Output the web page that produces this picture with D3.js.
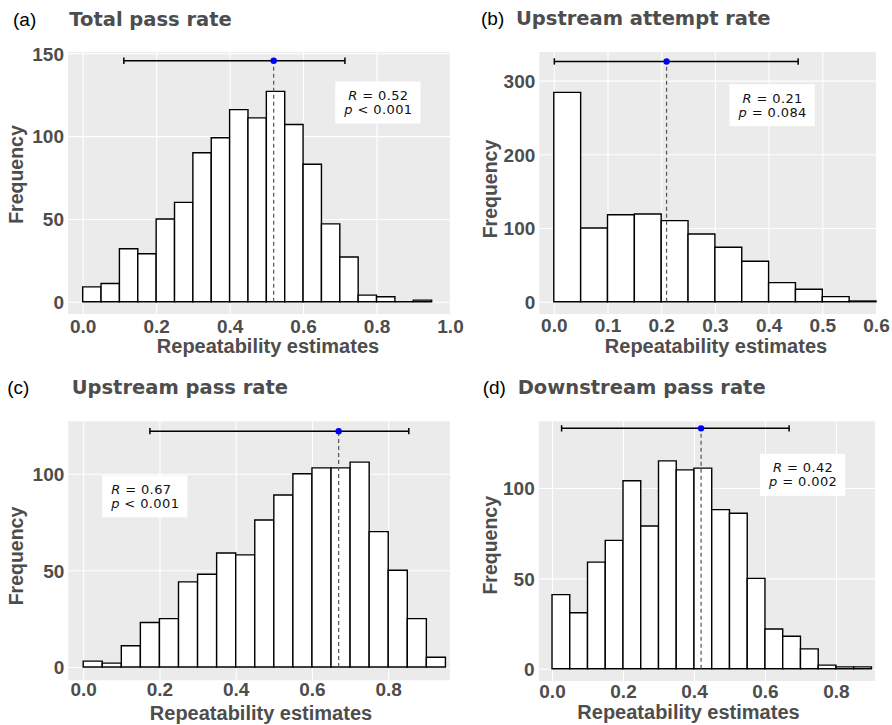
<!DOCTYPE html>
<html>
<head>
<meta charset="utf-8">
<script src="https://cdn.jsdelivr.net/npm/d3@7"></script>
<style>
  body { margin: 0; background: #fff; }
  svg { display: block; }
</style>
</head>
<body>
<div id="vis"></div>
<script>
// frame constants
const FRAME_WIDTH = 892;
const FRAME_HEIGHT = 725;

// histogram counts, bins of 0.05 starting at 0
const BIN_WIDTH = 0.05;
const TOTAL_PASS = [9, 11, 32, 29, 50, 60, 90, 99, 116, 111, 127, 107, 83, 47, 27, 4, 3, 0, 1];
const UP_ATTEMPT = [284, 100, 118, 119, 110, 92, 74, 55, 26, 17, 7, 1];
const UP_PASS = [3, 2, 11, 23, 25, 44, 48, 59, 58, 76, 89, 100, 103, 103, 106, 70, 50, 25, 5];
const DOWN_PASS = [41, 31, 59, 71, 104, 79, 115, 110, 111, 88, 86, 50, 22, 18, 11, 2, 1, 1];

const PANEL_COUNTS = [TOTAL_PASS, UP_ATTEMPT, UP_PASS, DOWN_PASS];
const PANEL_LETTERS = ["(a)", "(b)", "(c)", "(d)"];
const PANEL_TITLES = ["Total pass rate", "Upstream attempt rate", "Upstream pass rate", "Downstream pass rate"];

// repeatability estimate, confidence interval and p value
const R_VALUES = [0.52, 0.21, 0.67, 0.42];
const CI_LOW = [0.112, 0.001, 0.175, 0.027];
const CI_HIGH = [0.714, 0.455, 0.854, 0.668];
const CI_Y = [145.5, 326, 122, 133];
const P_LABELS = ["< 0.001", "= 0.084", "< 0.001", "= 0.002"];

// tick values
const X_TICKS = [
  [0, 0.2, 0.4, 0.6, 0.8, 1.0],
  [0, 0.1, 0.2, 0.3, 0.4, 0.5, 0.6],
  [0, 0.2, 0.4, 0.6, 0.8],
  [0, 0.2, 0.4, 0.6, 0.8]
];
const Y_TICKS = [
  [0, 50, 100, 150],
  [0, 100, 200, 300],
  [0, 50, 100],
  [0, 50, 100]
];

const X_TITLE = "Repeatability estimates";
const Y_TITLE = "Frequency";

// panel layout (pixels) and domains
const LAYOUT = [
  {left: 68, right: 450, top: 52, bottom: 314, xDom: [-0.04, 1.0], yDom: [-7.4, 150.8],
   letterX: 13, titleX: 69.3, titleY: 26, xLabelY: 332.5, xTitleX: 268, xTitleY: 353.3,
   yTitleX: 23.3, yTitleY: 174.5, note: [0.805, 120], noteAnchor: "middle"},
  {left: 539.3, right: 876, top: 52, bottom: 314, xDom: [-0.027, 0.6], yDom: [-16.6, 338.8],
   letterX: 481, titleX: 516, titleY: 25, xLabelY: 332, xTitleX: 716, xTitleY: 353.3,
   yTitleX: 496.7, yTitleY: 189, note: [0.4075, 266], noteAnchor: "middle"},
  {left: 68.3, right: 450, top: 421.3, bottom: 680.3, xDom: [-0.039, 0.962], yDom: [-6.9, 127.1],
   letterX: 7.3, titleX: 71.7, titleY: 394, xLabelY: 696, xTitleX: 261, xTitleY: 719.7,
   yTitleX: 23.3, yTitleY: 556, note: [0.0734, 88], noteAnchor: "start"},
  {left: 538.7, right: 875, top: 421.3, bottom: 681, xDom: [-0.0375, 0.91], yDom: [-6.8, 136.9],
   letterX: 482.7, titleX: 517.7, titleY: 394, xLabelY: 697.5, xTitleX: 688.5, xTitleY: 719.3,
   yTitleX: 496.7, yTitleY: 545.3, note: [0.7075, 107], noteAnchor: "middle"}
];

const AXIS_GREY = "#4d4d4d";
const LABEL_FONT = "'Liberation Sans', Arial, Helvetica, sans-serif";
const TITLE_FONT = "'DejaVu Sans', Verdana, sans-serif";

const FRAME = d3.select("#vis")
                .append("svg")
                  .attr("width", FRAME_WIDTH)
                  .attr("height", FRAME_HEIGHT);

FRAME.append("rect")
      .attr("width", FRAME_WIDTH)
      .attr("height", FRAME_HEIGHT)
      .attr("fill", "#fff");

function drawPanel(i) {
  const L = LAYOUT[i];
  const counts = PANEL_COUNTS[i];
  const g = FRAME.append("g");

  const X_SCALE = d3.scaleLinear().domain(L.xDom).range([L.left, L.right]);
  const Y_SCALE = d3.scaleLinear().domain(L.yDom).range([L.bottom, L.top]);

  // grey panel
  g.append("rect")
    .attr("x", L.left)
    .attr("y", L.top)
    .attr("width", L.right - L.left)
    .attr("height", L.bottom - L.top)
    .attr("fill", "#ebebeb");

  // white grid lines
  g.append("g")
    .attr("transform", "translate(0," + L.bottom + ")")
    .call(d3.axisBottom(X_SCALE).tickValues(X_TICKS[i])
            .tickSize(-(L.bottom - L.top)).tickFormat(""))
    .call((a) => a.select(".domain").remove())
    .selectAll("line")
      .attr("stroke", "#fff")
      .attr("stroke-width", 1.1);

  g.append("g")
    .attr("transform", "translate(" + L.left + ",0)")
    .call(d3.axisLeft(Y_SCALE).tickValues(Y_TICKS[i])
            .tickSize(-(L.right - L.left)).tickFormat(""))
    .call((a) => a.select(".domain").remove())
    .selectAll("line")
      .attr("stroke", "#fff")
      .attr("stroke-width", 1.1);

  // histogram bars (paths so empty bins still show as a flat line)
  const bins = counts.map((c, k) => ({x0: k * BIN_WIDTH, x1: (k + 1) * BIN_WIDTH, n: c}));
  g.selectAll(".bar")
    .data(bins)
    .enter()
    .append("path")
      .attr("class", "bar")
      .attr("d", (d) => {
        const x0 = X_SCALE(d.x0), x1 = X_SCALE(d.x1);
        const y0 = Y_SCALE(0), y1 = Y_SCALE(d.n);
        return "M" + x0 + "," + y0 + "V" + y1 + "H" + x1 + "V" + y0 + "Z";
      })
      .attr("fill", "#fff")
      .attr("stroke", "#000")
      .attr("stroke-width", 1.4);

  // dashed line at the estimate
  g.append("line")
    .attr("x1", X_SCALE(R_VALUES[i]))
    .attr("x2", X_SCALE(R_VALUES[i]))
    .attr("y1", Y_SCALE(0))
    .attr("y2", Y_SCALE(CI_Y[i]))
    .attr("stroke", "#555")
    .attr("stroke-width", 1.2)
    .attr("stroke-dasharray", "4,3");

  // confidence interval
  const cy = Y_SCALE(CI_Y[i]);
  g.append("line")
    .attr("x1", X_SCALE(CI_LOW[i]))
    .attr("x2", X_SCALE(CI_HIGH[i]))
    .attr("y1", cy).attr("y2", cy)
    .attr("stroke", "#000")
    .attr("stroke-width", 1.5);
  [CI_LOW[i], CI_HIGH[i]].forEach((v) => {
    g.append("line")
      .attr("x1", X_SCALE(v)).attr("x2", X_SCALE(v))
      .attr("y1", cy - 3.2).attr("y2", cy + 3.2)
      .attr("stroke", "#000")
      .attr("stroke-width", 1.5);
  });
  g.append("circle")
    .attr("cx", X_SCALE(R_VALUES[i]))
    .attr("cy", cy)
    .attr("r", 3.2)
    .attr("fill", "#0000ff");

  // tick labels
  const xl = g.append("g")
    .attr("transform", "translate(0," + L.bottom + ")")
    .call(d3.axisBottom(X_SCALE).tickValues(X_TICKS[i]).tickSize(0).tickFormat(d3.format(".1f")));
  xl.select(".domain").remove();
  xl.selectAll("text")
    .attr("y", L.xLabelY - L.bottom)
    .attr("dy", 0)
    .attr("fill", AXIS_GREY)
    .attr("font-family", LABEL_FONT)
    .attr("font-weight", "bold")
    .attr("font-size", "19px");

  const yl = g.append("g")
    .attr("transform", "translate(" + L.left + ",0)")
    .call(d3.axisLeft(Y_SCALE).tickValues(Y_TICKS[i]).tickSize(0).tickPadding(4));
  yl.select(".domain").remove();
  yl.selectAll("text")
    .attr("dy", "0.36em")
    .attr("fill", AXIS_GREY)
    .attr("font-family", LABEL_FONT)
    .attr("font-weight", "bold")
    .attr("font-size", "19px");

  // axis titles
  g.append("text")
    .attr("x", L.xTitleX)
    .attr("y", L.xTitleY)
    .attr("text-anchor", "middle")
    .attr("fill", AXIS_GREY)
    .attr("font-family", LABEL_FONT)
    .attr("font-weight", "bold")
    .attr("font-size", "20px")
    .text(X_TITLE);

  g.append("text")
    .attr("transform", "translate(" + L.yTitleX + "," + L.yTitleY + ") rotate(-90)")
    .attr("text-anchor", "middle")
    .attr("fill", AXIS_GREY)
    .attr("font-family", LABEL_FONT)
    .attr("font-weight", "bold")
    .attr("font-size", "19.5px")
    .text(Y_TITLE);

  // panel letter and title
  g.append("text")
    .attr("x", L.letterX)
    .attr("y", L.titleY)
    .attr("fill", "#000")
    .attr("font-family", LABEL_FONT)
    .attr("font-size", "19px")
    .text(PANEL_LETTERS[i]);

  g.append("text")
    .attr("x", L.titleX)
    .attr("y", L.titleY)
    .attr("fill", AXIS_GREY)
    .attr("font-family", TITLE_FONT)
    .attr("font-weight", "bold")
    .attr("font-size", "19.5px")
    .text(PANEL_TITLES[i]);

  // R / p annotation in a white box, one text per line
  const nx = X_SCALE(L.note[0]);
  const ny = Y_SCALE(L.note[1]);
  const note = g.append("g");
  const box = note.append("rect").attr("fill", "#fff");
  const lines = [["R", " = " + R_VALUES[i].toFixed(2)], ["p", " " + P_LABELS[i]]];
  const texts = lines.map((ln, k) => {
    const t = note.append("text")
      .attr("x", nx)
      .attr("y", ny - 3 + k * 14)
      .attr("font-family", TITLE_FONT)
      .attr("font-size", "13px")
      .attr("letter-spacing", "0.4px")
      .attr("fill", "#111")
      .attr("text-anchor", L.noteAnchor);
    t.append("tspan").attr("font-style", "italic").text(ln[0]);
    t.append("tspan").text(ln[1]);
    return t.node().getBBox();
  });

  const bx0 = d3.min(texts, (b) => b.x), bx1 = d3.max(texts, (b) => b.x + b.width);
  const by0 = d3.min(texts, (b) => b.y), by1 = d3.max(texts, (b) => b.y + b.height);
  box.attr("x", bx0 - 8)
     .attr("y", by0 - 6.5)
     .attr("width", bx1 - bx0 + 16)
     .attr("height", by1 - by0 + 13);
}

PANEL_COUNTS.forEach((c, i) => drawPanel(i));
</script>
</body>
</html>
